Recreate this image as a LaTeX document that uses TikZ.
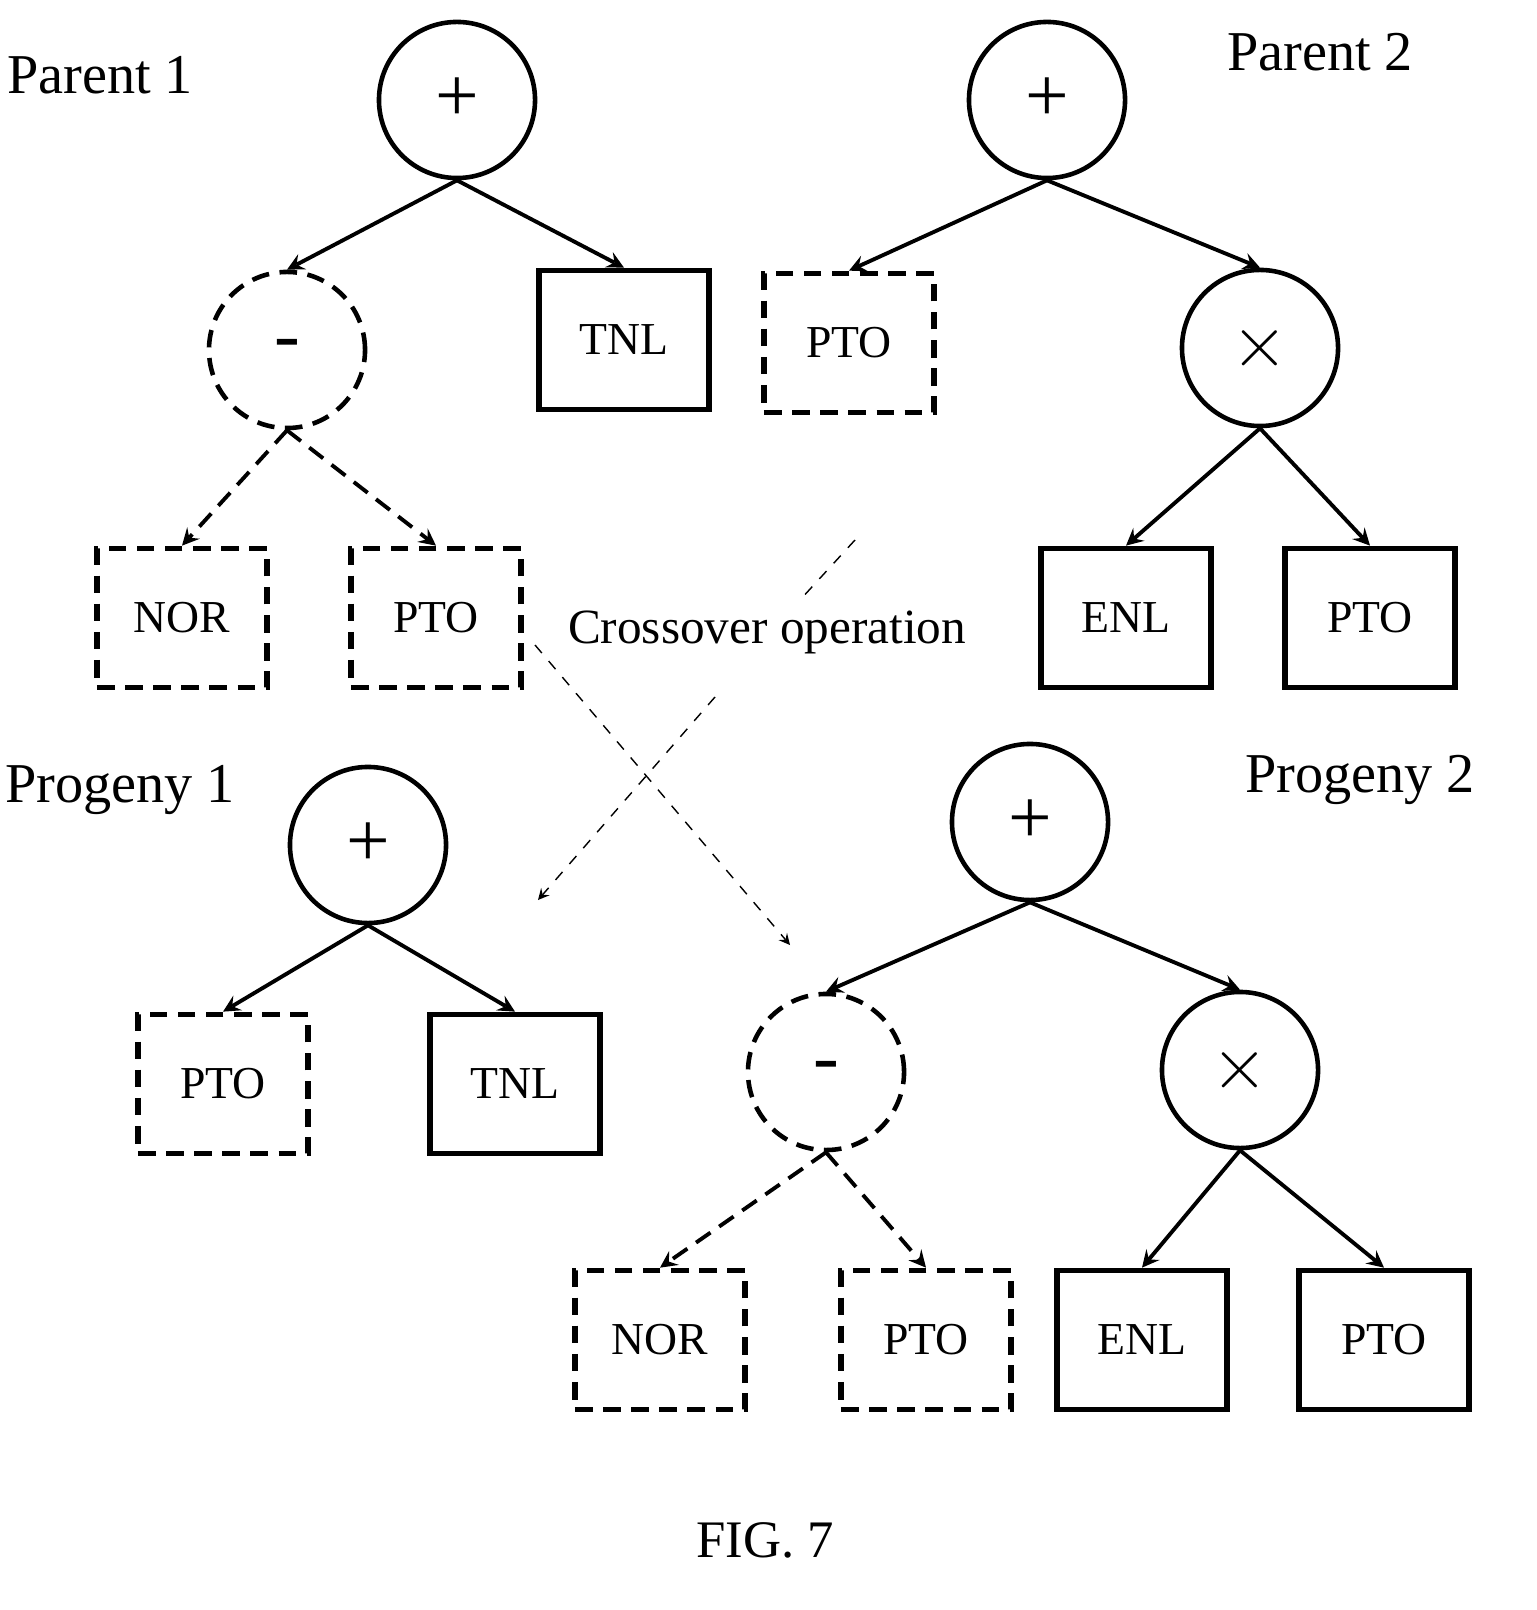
\documentclass[tikz,border=0pt]{standalone}
\usepackage{fontspec}
\setmainfont{Liberation Serif}
\usetikzlibrary{arrows}
\tikzset{
  op/.style={circle, draw, line width=1.3pt, minimum size=1.56cm, inner sep=0pt, font=\fontsize{22}{24}\selectfont},
  term/.style={rectangle, draw, line width=1.6pt, minimum width=1.7cm, minimum height=1.39cm, font=\fontsize{13}{15}\selectfont},
  cut/.style={dashed, dash pattern=on 5pt off 3pt},
  edge/.style={line width=1.1pt, >=stealth, ->},
  cross/.style={thin, dashed, >=stealth, ->},
  lbl/.style={font=\fontsize{16}{18}\selectfont}
}
\begin{document}
\begin{tikzpicture}[x=0.01cm,y=-0.01cm]
\useasboundingbox (0,0) rectangle (1536,1610);

% Parent 1
\node[lbl] (l1) at (100,75) {Parent 1};
\node[op] (p1r) at (457,100) {+};
\node[op,cut] (p1m) at (287,350) {-};
\node[term] (p1t) at (624,340) {TNL};
\node[term,cut] (p1n) at (182,618) {NOR};
\node[term,cut] (p1p) at (436,618) {PTO};
\draw[edge] (p1r.south) -- (p1m.north);
\draw[edge] (p1r.south) -- (p1t.north);
\draw[edge,cut] (p1m.south) -- (p1n.north);
\draw[edge,cut] (p1m.south) -- (p1p.north);

% Parent 2
\node[lbl] (l2) at (1320,52) {Parent 2};
\node[op] (p2r) at (1047,100) {+};
\node[term,cut] (p2p) at (849,343) {PTO};
\node[op] (p2x) at (1260,348) {$\times$};
\node[term] (p2e) at (1126,618) {ENL};
\node[term] (p2q) at (1370,618) {PTO};
\draw[edge] (p2r.south) -- (p2p.north);
\draw[edge] (p2r.south) -- (p2x.north);
\draw[edge] (p2x.south) -- (p2e.north);
\draw[edge] (p2x.south) -- (p2q.north);

% crossover
\node[font=\fontsize{14}{16}\selectfont] (co) at (767,632) {Crossover operation};
\coordinate (c1) at (855,540);
\coordinate (c2) at (800,600);
\coordinate (c3) at (715,697);
\coordinate (c4) at (538,900);
\coordinate (c5) at (535,645);
\coordinate (c6) at (790,945);
\draw[thin,dashed] (c1) -- (c2);
\draw[cross] (c3) -- (c4);
\draw[cross] (c5) -- (c6);

% Progeny 1
\node[lbl] (l3) at (120,790) {Progeny 1};
\node[op] (q1r) at (368,845) {+};
\node[term,cut] (q1p) at (223,1084) {PTO};
\node[term] (q1t) at (515,1084) {TNL};
\draw[edge] (q1r.south) -- (q1p.north);
\draw[edge] (q1r.south) -- (q1t.north);

% Progeny 2
\node[lbl] (l4) at (1360,780) {Progeny 2};
\node[op] (q2r) at (1030,822) {+};
\node[op,cut] (q2m) at (826,1072) {-};
\node[op] (q2x) at (1240,1070) {$\times$};
\node[term,cut] (q2n) at (660,1340) {NOR};
\node[term,cut] (q2p) at (926,1340) {PTO};
\node[term] (q2e) at (1142,1340) {ENL};
\node[term] (q2q) at (1384,1340) {PTO};
\draw[edge] (q2r.south) -- (q2m.north);
\draw[edge] (q2r.south) -- (q2x.north);
\draw[edge,cut] (q2m.south) -- (q2n.north);
\draw[edge,cut] (q2m.south) -- (q2p.north);
\draw[edge] (q2x.south) -- (q2e.north);
\draw[edge] (q2x.south) -- (q2q.north);

\node[font=\fontsize{15}{17}\selectfont] (fig) at (765,1540) {FIG. 7};
\end{tikzpicture}
\end{document}
